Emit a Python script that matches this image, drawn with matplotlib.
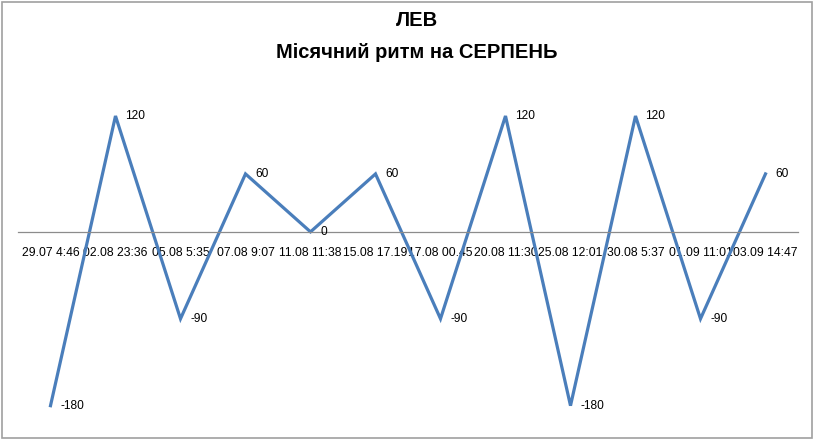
import matplotlib
matplotlib.use("Agg")
import matplotlib.pyplot as plt
from matplotlib.patches import Rectangle

# data
dates = ["29.07 4:46", "02.08 23:36", "05.08 5:35", "07.08 9:07", "11.08 11:38",
         "15.08 17.19", "17.08 00.45", "20.08 11:30", "25.08 12:01", "30.08 5:37",
         "01.09 11:01", "03.09 14:47"]
values = [-180, 120, -90, 60, 0, 60, -90, 120, -180, 120, -90, 60]
title_lines = ["ЛЕВ", "Місячний ритм на СЕРПЕНЬ"]

plt.rcParams['font.family'] = ['Liberation Sans', 'DejaVu Sans']

fig = plt.figure(figsize=(8.34, 4.45), dpi=100)
# outer chart border
fig.patches.append(Rectangle((1.5 / 834, 1 - 438 / 445), 810 / 834, 436 / 445,
                             transform=fig.transFigure, fill=False,
                             edgecolor="#a0a0a0", linewidth=1.2))

ax = fig.add_axes([18 / 834, 1 - 425 / 445, 780 / 834, 338 / 445])
for s in ["left", "right", "top"]:
    ax.spines[s].set_visible(False)
# x axis crosses at zero; set before the tick labels (it resets the ticks)
ax.spines["bottom"].set_position(("data", 0))
ax.spines["bottom"].set_color("#8c8c8c")
ax.spines["bottom"].set_linewidth(0.9)

x = list(range(len(values)))
ax.plot(x, values, color="#4a7ebb", linewidth=2.3, solid_joinstyle="miter")

for xi, v in zip(x, values):
    ax.annotate(str(v), (xi, v), xytext=(7, 0), textcoords="offset points",
                va="center", ha="left", fontsize=8.6, color="#000000")

ax.set_xlim(-0.5, len(values) - 0.5)
ax.set_ylim(-200, 150)
ax.set_xticks(x)
ax.set_xticklabels(dates)
ax.tick_params(axis="x", length=0, pad=11, labelsize=8.7)
ax.set_yticks([])
ax.patch.set_alpha(0)

fig.text(0.5, 1 - 20 / 445, title_lines[0], ha="center", va="center",
         fontsize=14.5, fontweight="bold")
fig.text(0.5, 1 - 53 / 445, title_lines[1], ha="center", va="center",
         fontsize=14.5, fontweight="bold")

fig.savefig("out.png", dpi=100, facecolor="white")
